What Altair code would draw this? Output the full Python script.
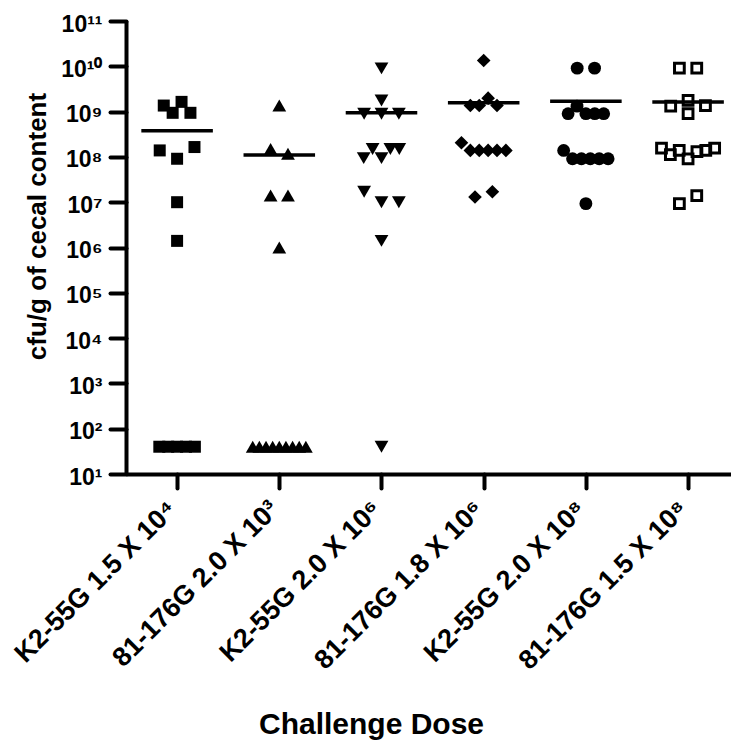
import json
import numpy as np
import pandas as pd
import altair as alt

# ---- data ----
categories = [
    "K2-55G 1.5 X 10\u2074",
    "81-176G 2.0 X 10\u00b3",
    "K2-55G 2.0 X 10\u2076",
    "81-176G 1.8 X 10\u2076",
    "K2-55G 2.0 X 10\u2078",
    "81-176G 1.5 X 10\u2078",
]
g1 = [1.36e9, 9.4e8, 1.64e9, 9.4e8, 1.39e8, 9.1e7, 1.65e8, 1.0e7, 1.4e6, 40, 40, 40, 40, 40]
g2 = [1.36e9, 1.5e8, 1.17e8, 1.4e7, 1.4e7, 1.0e6, 40, 40, 40, 40, 40, 40, 40, 40, 40]
g3 = [9.0e9, 1.76e9, 9.0e8, 9.0e8, 9.0e8, 9.4e7, 1.5e8, 9.4e7, 1.5e8, 1.5e8, 1.7e7, 1.0e7, 1.0e7, 1.4e6, 40]
g4 = [1.34e10, 1.36e9, 1.36e9, 1.98e9, 1.36e9, 2.05e8, 1.39e8, 1.39e8, 1.39e8, 1.39e8, 1.39e8, 1.3e7, 1.7e7]
g5 = [9.1e9, 9.1e9, 9.0e8, 1.32e9, 9.0e8, 9.0e8, 9.0e8, 1.39e8, 9.1e7, 9.1e7, 9.1e7, 9.1e7, 9.1e7, 9.3e6]
g6 = [9.1e9, 9.1e9, 1.32e9, 9.0e8, 1.76e9, 1.36e9, 1.57e8, 1.12e8, 1.39e8, 9.1e7, 1.3e8, 1.39e8, 1.57e8, 9.3e6, 1.4e7]
groups = [g1, g2, g3, g4, g5, g6]
ytick_labels = ["10\u00b9", "10\u00b2", "10\u00b3", "10\u2074", "10\u2075", "10\u2076",
                "10\u2077", "10\u2078", "10\u2079", "10\u00b9\u2070", "10\u00b9\u00b9"]


def spread(vals):
    """Prism-like horizontal spreading of points with close values."""
    logs = np.log10(vals)
    n = len(vals)
    order = sorted(range(n), key=lambda i: -logs[i])
    clusters = []
    for i in order:
        if clusters and logs[clusters[-1][0]] - logs[i] <= 0.27:
            clusters[-1].append(i)
        else:
            clusters.append([i])
    off = [0.0] * n
    for c in clusters:
        c = sorted(c)
        m = len(c)
        s = 0.17 if m <= 3 else min(0.087, 0.52 / (m - 1))
        for k, i in enumerate(c):
            off[i] = (k - (m - 1) / 2) * s
    return off


rows = []
for gi, vals in enumerate(groups):
    for v, o in zip(vals, spread(vals)):
        rows.append({"gi": gi, "value": v, "xpos": gi + o})
df = pd.DataFrame(rows)

FONT = "Liberation Sans"

x_axis = alt.Axis(
    values=list(range(len(categories))),
    labelExpr=json.dumps(categories, ensure_ascii=False) + "[datum.value]",
    labelAngle=-45, labelAlign="right", labelBaseline="middle",
    labelFont=FONT, labelFontWeight="bold", labelFontSize=27, labelColor="black",
    labelPadding=17, labelOffset=-5, labelOverlap=False, labelBound=False, labelFlush=False,
    labelLimit=0,
    tickSize=14, tickWidth=4, tickColor="black", tickCap="round",
    domainWidth=4, domainColor="black", grid=False,
    title="Challenge Dose", titleFont=FONT, titleFontWeight="bold", titleFontSize=30,
    titleColor="black", titleX=245, titleY=259, titleBaseline="alphabetic", titleAlign="center",
)
y_axis = alt.Axis(
    values=[10 ** k for k in range(1, 12)],
    labelExpr=json.dumps(ytick_labels, ensure_ascii=False) + "[round(log(datum.value)/LN10)-1]",
    labelFont=FONT, labelFontWeight="bold", labelFontSize=23, labelColor="black",
    labelBaseline="middle", labelOffset=3, labelPadding=8, labelOverlap=False, labelFlush=False,
    labelLimit=0,
    tickSize=16, tickWidth=4, tickColor="black", tickCap="round",
    domainWidth=4, domainColor="black", grid=False,
    title="cfu/g of cecal content", titleFont=FONT, titleFontWeight="bold", titleFontSize=26,
    titleColor="black", titleAngle=-90, titleX=-89, titleY=205, titleBaseline="middle",
    titleAlign="center",
)
x_scale = alt.Scale(domain=[-0.5, 5.42], nice=False, zero=False)
y_scale = alt.Scale(type="log", domain=[10, 1e11], nice=False)


def X(field):
    return alt.X(f"{field}:Q", scale=x_scale, axis=x_axis)


def Y(field):
    return alt.Y(f"{field}:Q", scale=y_scale, axis=y_axis)


base = alt.Chart(df)

mean_rule = (
    base.transform_aggregate(mean="mean(value)", groupby=["gi"])
    .transform_calculate(x1="datum.gi - 0.35", x2="datum.gi + 0.35")
    .mark_rule(color="black", strokeWidth=3.5)
    .encode(x=X("x1"), x2="x2:Q", y=Y("mean"))
)

styles = [
    dict(shape="square", size=144, filled=True),
    dict(shape="triangle-up", size=190, filled=True),
    dict(shape="triangle-down", size=190, filled=True),
    dict(shape="diamond", size=185, filled=True),
    dict(shape="circle", size=165, filled=True),
    dict(shape="square", size=95, filled=False),
]
layers = [mean_rule]
for gi, st in enumerate(styles):
    if st["filled"]:
        mk = dict(shape=st["shape"], size=st["size"], filled=True, color="black",
                  opacity=1, strokeWidth=0)
    else:
        mk = dict(shape=st["shape"], size=st["size"], filled=False, color="black",
                  opacity=1, strokeWidth=3)
    layers.append(
        base.transform_filter(alt.datum.gi == gi)
        .mark_point(**mk)
        .encode(x=X("xpos"), y=Y("value"))
    )

chart = (
    alt.layer(*layers)
    .properties(
        width=605, height=453,
        autosize=alt.AutoSizeParams(type="none"),
        padding={"left": 126, "top": 21, "right": 0, "bottom": 268},
        background="white",
    )
    .configure_view(stroke=None)
)

chart.save("out.html", embed_options={"renderer": "svg", "actions": False})
